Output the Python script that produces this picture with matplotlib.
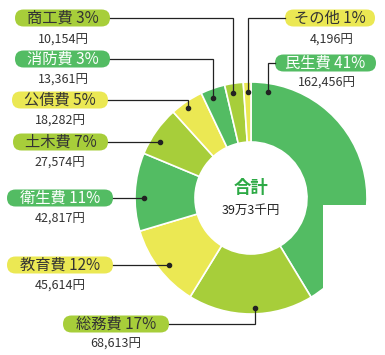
import matplotlib
matplotlib.use("Agg")
import matplotlib.pyplot as plt
from matplotlib.patches import FancyBboxPatch, Rectangle

plt.rcParams["font.family"] = ["Noto Sans CJK JP", "DejaVu Sans"]

# data (clockwise from 12 o'clock)
categories = ["民生費", "総務費", "教育費", "衛生費", "土木費", "公債費", "消防費", "商工費", "その他"]
amounts = [162456, 68613, 45614, 42817, 27574, 18282, 13361, 10154, 4196]
percents = [41, 17, 12, 11, 7, 5, 3, 3, 1]
total_label = "39万3千円"

GREEN = "#53bc63"
LIME = "#a7ce3a"
YELLOW = "#ebe853"
colors = [GREEN, LIME, YELLOW] * 3
text_colors = ["white", "#333333", "#333333"] * 3

W, H = 385, 355
CX, CY = 251, 198   # image coords of ring centre
R_OUT, R_IN = 116, 56

# label layout in image pixels: box x0, x1, y centre; value text x, y; leader path
boxes = [(275, 376, 63), (63, 169, 324), (7, 113, 265), (7, 113, 198), (13, 108, 142),
         (12, 108, 100), (15, 110, 59), (15, 110, 18), (285, 375, 18)]
value_pos = [(327, 83), (116, 344), (60, 286), (60, 219), (60, 163),
             (60, 121), (63, 80), (63, 40), (332, 40)]
leaders = [
    [(275, 63), (268, 63), (268, 92)],
    [(169, 324), (255, 324), (255, 308)],
    [(113, 265), (169, 265)],
    [(113, 198), (144, 198)],
    [(108, 142), (160, 142)],
    [(108, 100), (188, 100), (188, 108)],
    [(110, 59), (213, 59), (213, 98)],
    [(110, 18), (233, 18), (233, 93)],
    [(285, 18), (248, 18), (248, 92)],
]


def Y(y):
    return H - y


fig = plt.figure(figsize=(W / 100, H / 100), dpi=100)
ax = fig.add_axes([0, 0, 1, 1])

wedges, _ = ax.pie(
    amounts,
    colors=colors,
    startangle=90,
    counterclock=False,
    radius=R_OUT,
    center=(CX, Y(CY)),
    wedgeprops=dict(width=R_OUT - R_IN, edgecolor="white", linewidth=1.2),
)
ax.set_xlim(0, W)
ax.set_ylim(0, H)
ax.set_aspect("equal")
ax.axis("off")

# the large wedge is cut off at its lower right in the reference
ax.add_patch(Rectangle((323, 0), W - 323, Y(205), facecolor="white",
                       edgecolor="none", zorder=5))

ax.text(CX, Y(188), "合計", ha="center", va="center", fontsize=12.5,
        fontweight="bold", color="#2daa45")
ax.text(CX, Y(210), total_label, ha="center", va="center", fontsize=9, color="#222222")

for i, cat in enumerate(categories):
    x0, x1, yc = boxes[i]
    bh = 17
    ax.add_patch(FancyBboxPatch((x0, Y(yc) - bh / 2), x1 - x0, bh,
                                boxstyle="round,pad=0,rounding_size=8.5",
                                facecolor=colors[i], edgecolor="none", zorder=6))
    ax.text((x0 + x1) / 2, Y(yc), f"{cat} {percents[i]}%", ha="center", va="center",
            fontsize=11, color=text_colors[i], zorder=7)
    vx, vy = value_pos[i]
    ax.text(vx, Y(vy), f"{amounts[i]:,}円", ha="center", va="center",
            fontsize=9, color="#333333", zorder=7)
    pts = leaders[i]
    ax.plot([p[0] for p in pts], [Y(p[1]) for p in pts], color="#222222", lw=0.9,
            solid_joinstyle="miter", zorder=6)
    ax.plot(pts[-1][0], Y(pts[-1][1]), "o", color="#222222", ms=3, zorder=6)

fig.savefig("out.png", dpi=100)
